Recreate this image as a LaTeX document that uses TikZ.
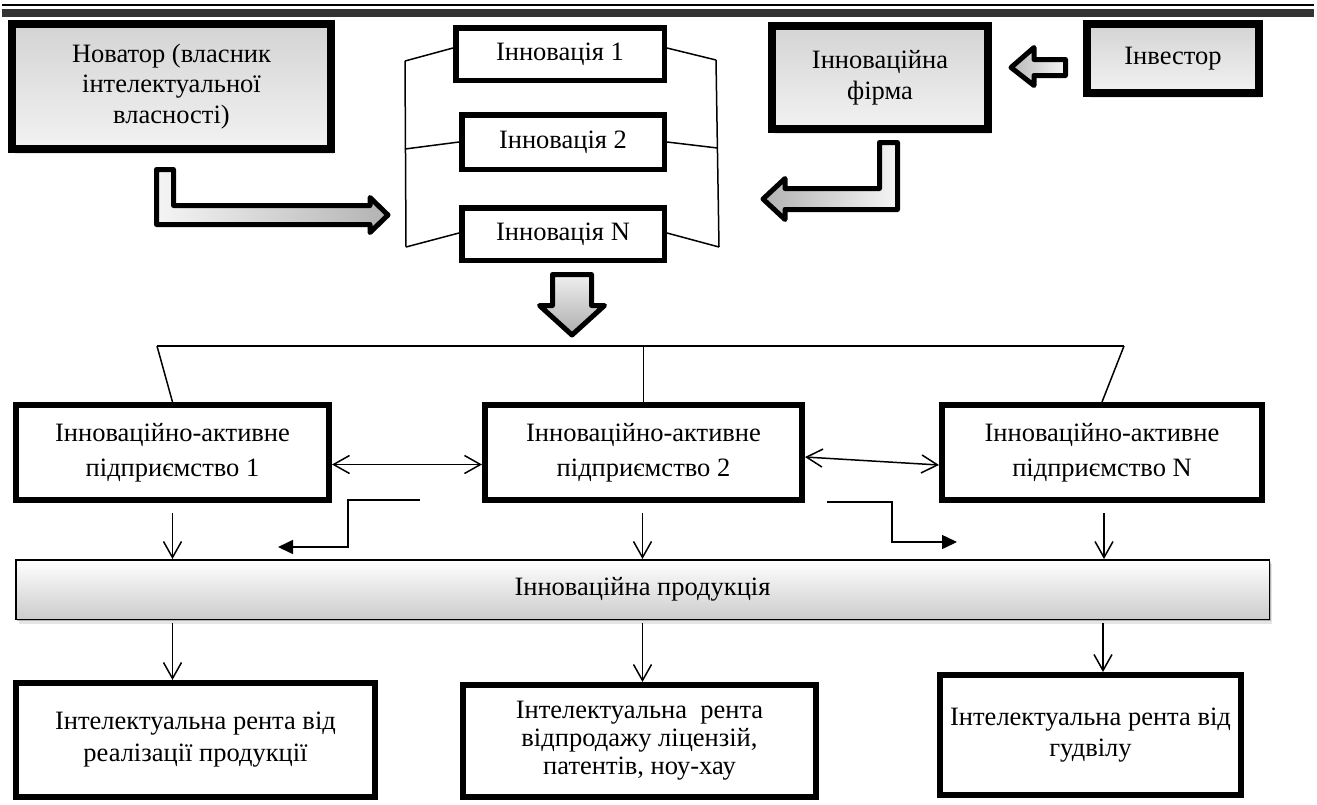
\documentclass[tikz,border=0pt]{standalone}
\usepackage{fontspec}
\setmainfont{Liberation Serif}
\usetikzlibrary{arrows.meta,shadows,calc}

\begin{document}
\begin{tikzpicture}[x=1pt,y=-1pt,
  txt/.style={font=\fontsize{26.5}{30.5}\selectfont, align=center, text=black, inner sep=0pt},
  soft/.style={drop shadow={shadow xshift=1.5pt,shadow yshift=-2pt,opacity=.22,fill=black},
               drop shadow={shadow xshift=3pt,shadow yshift=-4.5pt,opacity=.10,fill=black}},
  graybox/.style={txt, draw=black, line width=8pt, top color=black!17, bottom color=black!5, soft},
  innobox/.style={txt, draw=black, line width=5.5pt, fill=white,
               drop shadow={shadow xshift=1pt,shadow yshift=-2pt,opacity=.15,fill=black}},
  firmbox/.style={txt, draw=black, line width=6pt, fill=white,
               drop shadow={shadow xshift=1pt,shadow yshift=-2pt,opacity=.15,fill=black}},
  prodbar/.style={txt, draw=black, line width=1.5pt, top color=white, bottom color=black!20, soft},
  thin/.style={line width=1.5pt, black},
  link/.style={thin, -{Straight Barb[length=16pt,width=18pt]}},
  dlink/.style={thin, {Straight Barb[length=16pt,width=18pt]}-{Straight Barb[length=16pt,width=18pt]}},
  steplink/.style={thin, -{Triangle[length=15pt,width=14pt]}},
  blockarrow/.style={draw=black, line width=5pt, line join=round,
               drop shadow={shadow xshift=1pt,shadow yshift=-2pt,opacity=.15,fill=black}}
]
\useasboundingbox (0,0) rectangle (1317,804);
\fill[white] (0,0) rectangle (1317,804);

% heading rule
\draw[line width=2pt] (2,5) -- (1314,5);
\fill[black!80] (2,9) rectangle (1314,16.5);

% upper row
\node[graybox, minimum width=319pt, minimum height=125pt] (nov) at (171.5,86.5)
  {Новатор (власник\\інтелектуальної\\власності)};
\node[innobox, minimum width=208.5pt, minimum height=52.5pt] (i1) at (560,54) {Інновація 1};
\node[innobox, minimum width=202.5pt, minimum height=54.5pt] (i2) at (563,142) {Інновація 2};
\node[innobox, minimum width=202.5pt, minimum height=52.5pt] (iN) at (563,234) {Інновація N};
\node[graybox, minimum width=216pt, minimum height=103pt] (firm) at (880,77.5)
  {Інноваційна\\фірма};
\node[graybox, minimum width=172pt, minimum height=69pt] (inv) at (1173,58.5) {Інвестор};

% bracket round the innovations
\coordinate (bl1) at (405,61);
\coordinate (bl2) at (405,149);
\coordinate (bl3) at (406,247);
\coordinate (br1) at (716,60);
\coordinate (br2) at (717.5,148);
\coordinate (br3) at (719,247);
\draw[thin] (bl1) -- (bl3);
\draw[thin] (br1) -- (br3);
\draw[thin] (bl1) -- ($(i1.west)+(0,-6)$);
\draw[thin] (bl2) -- ($(i2.west)+(0,0)$);
\draw[thin] (bl3) -- ($(iN.west)+(0,-1)$);
\draw[thin] ($(i1.east)+(0,-6)$) -- (br1);
\draw[thin] ($(i2.east)+(0,0)$) -- (br2);
\draw[thin] ($(iN.east)+(0,-1)$) -- (br3);

% block arrows
\path[blockarrow, left color=black!4, right color=black!30]
  (156.5,169.5) -- (173.5,169.5) -- (173.5,205.5) -- (370,205.5) -- (370,197.5)
  -- (388,215) -- (370,232.5) -- (370,224.5) -- (156.5,224.5) -- cycle;
\path[blockarrow, left color=black!30, right color=black!4]
  (879.5,142.5) -- (897.5,142.5) -- (897.5,209.5) -- (785,209.5) -- (785,219.5)
  -- (763,199) -- (785,178.5) -- (785,188.5) -- (879.5,188.5) -- cycle;
\path[blockarrow, left color=black!28, right color=black!4]
  (1065.5,59.5) -- (1065.5,75.5) -- (1034,75.5) -- (1034,85.5) -- (1011,67.5)
  -- (1034,47.5) -- (1034,59.5) -- cycle;
\path[blockarrow, top color=black!6, bottom color=black!32]
  (552.5,274.5) -- (591.5,274.5) -- (591.5,305.5) -- (604.5,305.5) -- (572,335)
  -- (539.5,305.5) -- (552.5,305.5) -- cycle;

% enterprises
\node[firmbox, minimum width=313pt, minimum height=95pt, font=\fontsize{26.5}{34.5}\selectfont] (p1) at (172.5,452.5)
  {Інноваційно-активне\\підприємство 1};
\node[firmbox, minimum width=317pt, minimum height=95pt, font=\fontsize{26.5}{34.5}\selectfont] (p2) at (643.5,452.5)
  {Інноваційно-активне\\підприємство 2};
\node[firmbox, minimum width=320pt, minimum height=95pt, font=\fontsize{26.5}{34.5}\selectfont] (pN) at (1102,452.5)
  {Інноваційно-активне\\підприємство N};

% distribution line above the enterprises
\coordinate (tl) at (157,346);
\coordinate (tm) at (643.5,346);
\coordinate (tr) at (1124,346);
\draw[thin] (tl) -- (tr);
\draw[thin] (tl) -- (p1.north);
\draw[thin] (tm) -- (p2.north);
\draw[thin] (tr) -- (pN.north);

% links between enterprises
\draw[dlink] ($(p1.east)+(0,12)$) -- ($(p2.west)+(0,12)$);
\draw[dlink] ($(p2.east)+(0,4.5)$) -- ($(pN.west)+(0,12.5)$);

% product bar
\node[prodbar, minimum width=1253.5pt, minimum height=59.5pt] (bar) at (642.5,589.5)
  {Інноваційна продукція};

\draw[link] ($(p1.south)+(0,10)$) -- (p1.south |- bar.north);
\draw[link] ($(p2.south)+(-1,10)$) -- ($(p2.south |- bar.north)+(-1,0)$);
\draw[link] ($(pN.south)+(2,10)$) -- ($(pN.south |- bar.north)+(2,0)$);

\coordinate (sl) at (420,500);
\coordinate (sr) at (827,502);
\draw[steplink] (sl) -- ++(-72,0) -- ++(0,47) -- ++(-70,0);
\draw[steplink] (sr) -- ++(65,0) -- ++(0,40) -- ++(65,0);

% rents
\node[firmbox, minimum width=359pt, minimum height=114pt, font=\fontsize{26.5}{32}\selectfont] (rl) at (195.5,740)
  {Інтелектуальна рента від\\реалізації продукції};
\node[firmbox, minimum width=353pt, minimum height=112pt, font=\fontsize{26.5}{28}\selectfont] (rm) at (639.5,741)
  {Інтелектуальна~ рента\\відпродажу ліцензій,\\патентів, ноу-хау};
\node[firmbox, minimum width=301pt, minimum height=120pt, font=\fontsize{26.5}{31}\selectfont] (rr) at (1090.5,735)
  {Інтелектуальна рента від\\гудвілу};

\draw[link] ($(p1.south |- bar.south)+(0,3)$) -- (p1.south |- rl.north);
\draw[link] ($(p2.south |- bar.south)+(-1,3)$) -- ($(p2.south |- rm.north)+(-1,0)$);
\draw[link] ($(pN.south |- bar.south)+(1,3)$) -- ($(pN.south |- rr.north)+(1,0)$);
\end{tikzpicture}
\end{document}
